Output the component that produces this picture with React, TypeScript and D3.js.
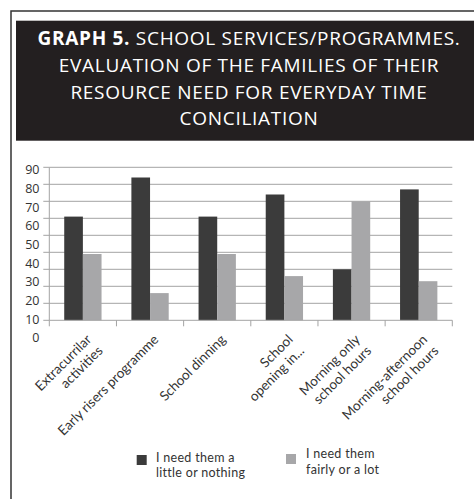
import React from "react";
import * as d3 from "d3";

const categories = [
  "Extracurrilar\nactivities",
  "Early risers programme",
  "School dinning",
  "School\nopening in...",
  "Morning only\nschool hours",
  "Morning-afternoon\nschool hours",
];
const seriesNames = ["I need them a\nlittle or nothing", "I need them\nfairly or a lot"];
const littleOrNothing = [61, 84, 61, 74, 30, 77];
const fairlyOrALot = [39, 16, 39, 26, 70, 23];
const gridValues = [10, 20, 30, 40, 50, 60, 70, 80, 90];
const tickLabels = [90, 80, 70, 60, 50, 40, 30, 20, 10, 0];
const titleLines = [
  ["GRAPH 5.", " SCHOOL SERVICES/PROGRAMMES."],
  ["", "EVALUATION OF THE FAMILIES OF THEIR"],
  ["", "RESOURCE NEED FOR EVERYDAY TIME"],
  ["", "CONCILIATION"],
];

const W = 474;
const H = 499;
const DARK = "#3b3b3b";
const LIGHT = "#a7a7a9";
const GRID = "#a3a3a3";

export default function App() {
  const left = 49.3;
  const right = 452.3;
  const base = 320.3;
  const top = 167.3;

  const x = d3.scaleBand<number>().domain(d3.range(categories.length)).range([left, right]);
  const xIdx = d3.scaleLinear().domain([0, categories.length]).range([left, right]);
  const x1 = d3
    .scaleBand<number>()
    .domain([0, 1])
    .range([0, x.bandwidth()])
    .paddingInner(0)
    .paddingOuter(0.8);
  const y = d3.scaleLinear().domain([0, 90]).range([base, top]);
  const yLab = d3.scaleLinear().domain([0, 90]).range([338, 170]);

  const series = [littleOrNothing, fairlyOrALot];
  const colors = [DARK, LIGHT];

  const gridLines = gridValues.map((v) => (
    <line key={"g" + v} x1={left} x2={right} y1={y(v)} y2={y(v)} stroke={GRID} strokeWidth={1} />
  ));

  const yTicks = [0, ...gridValues].map((v) => (
    <line key={"yt" + v} x1={left - 6} x2={left} y1={y(v)} y2={y(v)} stroke={GRID} strokeWidth={1} />
  ));

  const xTicks = d3.range(categories.length + 1).map((i) => (
    <line key={"xt" + i} x1={xIdx(i)} x2={xIdx(i)} y1={base} y2={base + 6} stroke={GRID} strokeWidth={1} />
  ));

  const bars = categories.flatMap((_, i) =>
    series.map((s, k) => (
      <rect
        key={`b${i}-${k}`}
        x={(x(i) as number) + (x1(k) as number)}
        y={y(s[i])}
        width={x1.bandwidth()}
        height={base - y(s[i])}
        fill={colors[k]}
      />
    ))
  );

  const catLabels = categories.map((c, i) => {
    const cx = (x(i) as number) + x.bandwidth() / 2 + 6;
    const lines = c.split("\n");
    return (
      <text
        key={"c" + i}
        transform={`translate(${cx},${337}) rotate(-45)`}
        textAnchor="end"
        fontFamily="Lato, 'Open Sans', sans-serif"
        fontSize={13.5}
        fill="#333"
      >
        {lines.map((l, j) => (
          <tspan key={j} x={0} dy={j === 0 ? "0.35em" : 16}>
            {l}
          </tspan>
        ))}
      </text>
    );
  });

  const yLabels = tickLabels.map((v) => (
    <text
      key={"yl" + v}
      x={39.5}
      y={yLab(v)}
      dy="0.35em"
      textAnchor="end"
      fontFamily="'Open Sans', sans-serif"
      fontSize={12.5}
      fill="#333"
    >
      {v}
    </text>
  ));

  const legendPos = [
    { sx: 136.7, sy: 455, tx: 156, ty: 461.7 },
    { sx: 286, sy: 454, tx: 306, ty: 458.3 },
  ];
  const legend = seriesNames.map((n, k) => (
    <g key={"lg" + k}>
      <rect x={legendPos[k].sx} y={legendPos[k].sy} width={10} height={10} fill={colors[k]} />
      {n.split("\n").map((l, j) => (
        <text
          key={j}
          x={legendPos[k].tx}
          y={legendPos[k].ty + j * 15.5}
          fontFamily="Lato, 'Open Sans', sans-serif"
          fontSize={12.5}
          letterSpacing={0.3}
          fill="#333"
        >
          {l}
        </text>
      ))}
    </g>
  ));

  return (
    <svg
      width={W}
      height={H}
      viewBox={`0 0 ${W} ${H}`}
      style={{ position: "fixed", left: 0, top: 0, background: "#fff" }}
    >
      <rect x={0} y={0} width={W} height={H} fill="#fff" />
      <path d={`M11,${H} V11 H${W}`} fill="none" stroke="#333" strokeWidth={1.5} />
      <rect x={16} y={20.7} width={W - 16} height={120} fill="#231f20" />
      {titleLines.map((l, i) => (
        <text
          key={"t" + i}
          x={249}
          y={45 + i * 26.8}
          textAnchor="middle"
          fontFamily="'Open Sans', sans-serif"
          fontSize={19}
          letterSpacing={0.7}
          fill="#fff"
        >
          {l[0] && <tspan fontWeight="bold">{l[0]}</tspan>}
          <tspan>{l[1]}</tspan>
        </text>
      ))}
      {gridLines}
      {bars}
      <line x1={left} x2={left} y1={top} y2={base} stroke={GRID} strokeWidth={1} />
      <line x1={left} x2={right} y1={base} y2={base} stroke={GRID} strokeWidth={1} />
      {yTicks}
      {xTicks}
      {yLabels}
      {catLabels}
      {legend}
    </svg>
  );
}
